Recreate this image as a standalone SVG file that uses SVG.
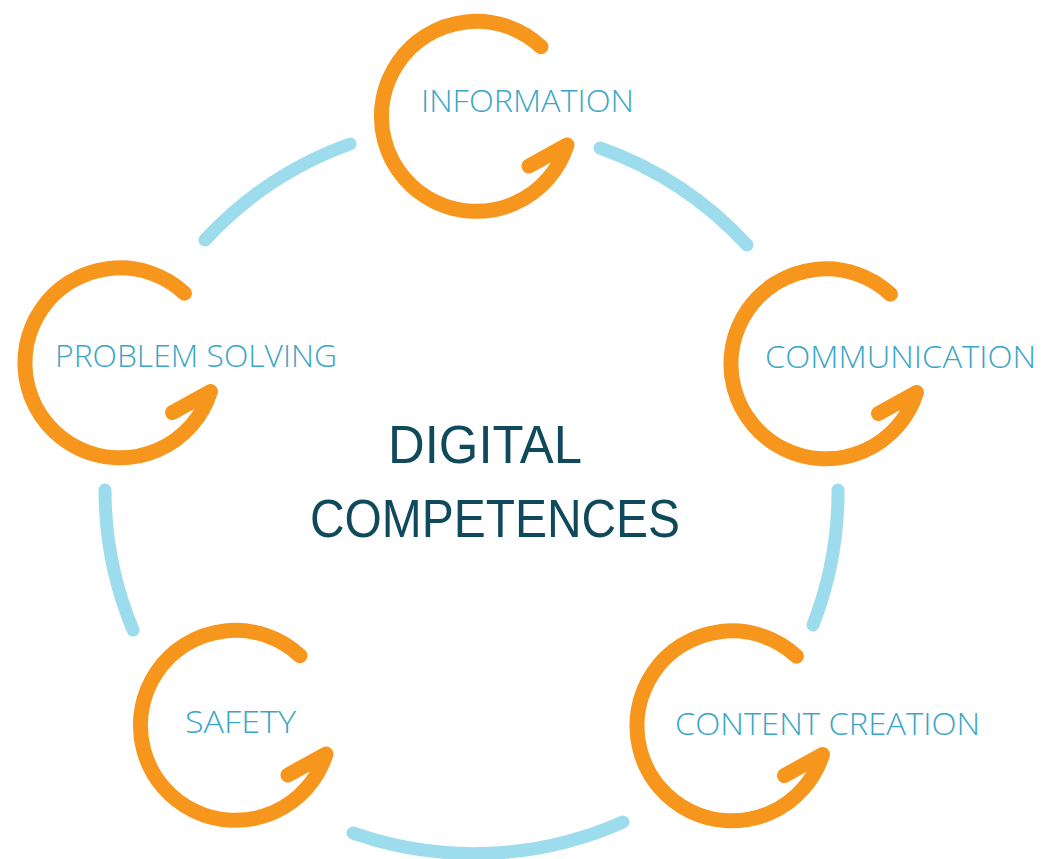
<svg xmlns="http://www.w3.org/2000/svg" width="1043" height="859" viewBox="0 0 1043 859">
  <defs>
    <style>
      .ring { fill: none; stroke: #F7961C; stroke-width: 15; stroke-linecap: round; stroke-linejoin: round; }
      .link { fill: none; stroke: #9CDCEC; stroke-width: 13; stroke-linecap: round; }
      .lbl { font-family: "Open Sans", "Liberation Sans", sans-serif; font-weight: 300; font-size: 32px; fill: #3AA6C6; }
      .title { font-family: "Liberation Sans", Arial, sans-serif; font-size: 53px; fill: #0F4A5C; }
    </style>
    <path id="g" d="M 66 -68.3 A 95 95 0 1 0 92 30 L 54 51"/>
  </defs>
  <rect width="1043" height="859" fill="#FFFFFF"/>

  <g id="connectors">
    <path class="link" d="M 205 240 A 366 366 0 0 1 350 144"/>
    <path class="link" d="M 600 148 A 366 366 0 0 1 747 245"/>
    <path class="link" d="M 838 490 A 366 366 0 0 1 813 625"/>
    <path class="link" d="M 623 822 A 366 366 0 0 1 353 833"/>
    <path class="link" d="M 133 630 A 366 366 0 0 1 105 490"/>
  </g>

  <g id="information">
    <use href="#g" class="ring" transform="translate(475,115)"/>
    <text class="lbl" x="421" y="112" textLength="213" lengthAdjust="spacingAndGlyphs">INFORMATION</text>
  </g>
  <g id="communication">
    <use href="#g" class="ring" transform="translate(824.5,362.5)"/>
    <text class="lbl" x="765" y="368" textLength="271" lengthAdjust="spacingAndGlyphs">COMMUNICATION</text>
  </g>
  <g id="problem-solving">
    <use href="#g" class="ring" transform="translate(118.5,361.5)"/>
    <text class="lbl" x="55" y="367" textLength="282" lengthAdjust="spacingAndGlyphs">PROBLEM SOLVING</text>
  </g>
  <g id="safety">
    <use href="#g" class="ring" transform="translate(234,724)"/>
    <text class="lbl" x="185" y="733" textLength="111" lengthAdjust="spacingAndGlyphs">SAFETY</text>
  </g>
  <g id="content-creation">
    <use href="#g" class="ring" transform="translate(730.5,724.5)"/>
    <text class="lbl" x="675" y="735" textLength="305" lengthAdjust="spacingAndGlyphs">CONTENT CREATION</text>
  </g>

  <g id="center">
    <text class="title" x="388" y="463" textLength="194" lengthAdjust="spacingAndGlyphs">DIGITAL</text>
    <text class="title" x="310" y="537" textLength="370" lengthAdjust="spacingAndGlyphs">COMPETENCES</text>
  </g>
</svg>
